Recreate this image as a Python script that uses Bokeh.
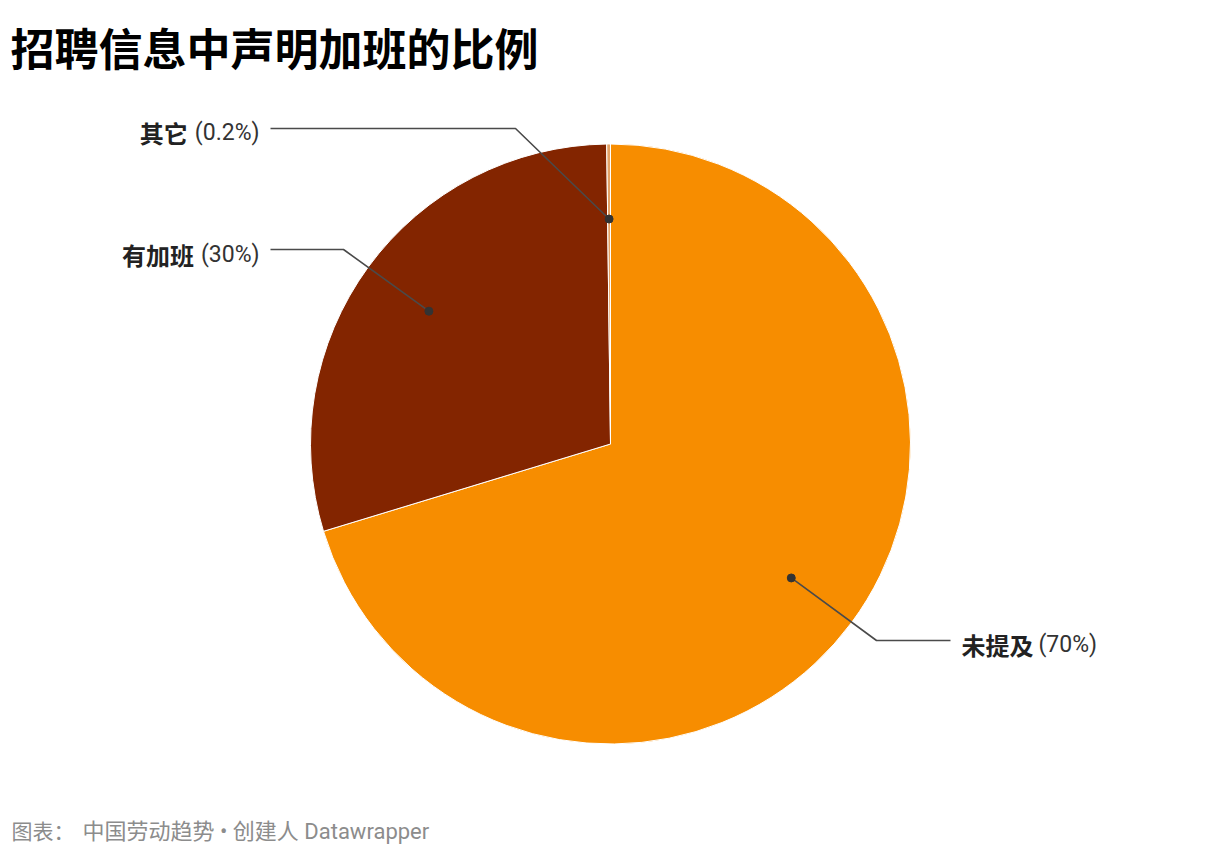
import math
from bokeh.plotting import figure
from bokeh.models import Range1d, ColumnDataSource
from bokeh.core.properties import value
from bokeh.embed import file_html
from bokeh.resources import INLINE

# ---- data ----
categories = ["未提及", "有加班", "其它"]
shares = [70.3, 29.5, 0.2]
pct_labels = ["(70%)", "(30%)", "(0.2%)"]
colors = ["#f78d00", "#832500", "#e3a266"]

title_text = "招聘信息中声明加班的比例"
footer_prefix = "图表："
footer_text = "中国劳动趋势 • 创建人 Datawrapper"

# ---- layout (reference pixel coordinates; y measured from top) ----
W, H = 1204, 848
cx, cy_top, R = 610, 443.5, 300
label_side = ["right", "left", "left"]
label_y = [644, 254, 132]          # text centre line
line_y = [640, 249, 128]           # horizontal leader y
elbow_x = [876, 343, 515]
line_end_x = [950, 270, 270]
text_x = [961, 259, 259]


def Y(y):
    return H - y


p = figure(width=W, height=H, output_backend="svg", toolbar_location=None,
           x_range=Range1d(0, W), y_range=Range1d(0, H),
           min_border=0, outline_line_color=None)
p.axis.visible = False
p.grid.visible = False
p.background_fill_color = "white"
p.border_fill_color = "white"

# ---- wedges (clockwise from 12 o'clock) ----
total = sum(shares)
starts, ends, mids = [], [], []
acc = 0.0
for s in shares:
    a0 = acc / total * 360
    acc += s
    a1 = acc / total * 360
    starts.append(math.radians(90 - a1))
    ends.append(math.radians(90 - a0))
    mids.append((a0 + a1) / 2)

src = ColumnDataSource(dict(x=[cx] * 3, y=[Y(cy_top)] * 3, start=starts, end=ends,
                            color=colors, cat=categories))
p.wedge(x="x", y="y", radius=R, start_angle="start", end_angle="end",
        fill_color="color", line_color="white", line_width=1, source=src)

# ---- leader lines and dots ----
dot_x, dot_y = [], []
for i, m in enumerate(mids):
    dx = cx + 0.75 * R * math.sin(math.radians(m))
    dy = cy_top - 0.75 * R * math.cos(math.radians(m))
    dot_x.append(dx)
    dot_y.append(Y(dy))
    p.line([dx, elbow_x[i], line_end_x[i]], [Y(dy), Y(line_y[i]), Y(line_y[i])],
           line_color="#4a4a4a", line_width=1.6)
p.scatter(dot_x, dot_y, size=8, color="#333333")

# ---- labels ----
FS = 23
FS_CJK = 24
roboto_w = {"(": 0.342, ")": 0.348, "%": 0.733, ".": 0.263, " ": 0.248}


def text_width(t):
    return sum(roboto_w.get(c, 0.562) for c in t) * FS


for i in range(3):
    if label_side[i] == "left":
        px = text_x[i]
        nx = text_x[i] - text_width(pct_labels[i]) - 7
        align = "right"
    else:
        nx = text_x[i]
        px = text_x[i] + len(categories[i]) * FS_CJK + 5
        align = "left"
    p.text([nx], [Y(label_y[i])], text=[categories[i]], text_align=align,
           text_baseline="middle", text_font=value("Noto Sans CJK SC"),
           text_font_style="bold", text_font_size=f"{FS_CJK}px", text_color="#222222")
    p.text([px], [Y(label_y[i])], text=[pct_labels[i]], text_align=align,
           text_baseline="middle", text_font=value("Roboto"),
           text_font_size=f"{FS}px", text_color="#333333")

# ---- title and footer ----
p.text([10], [Y(46)], text=[title_text], text_align="left", text_baseline="middle",
       text_font=value("Noto Sans CJK SC"), text_font_style="bold",
       text_font_size="44px", text_color="#000000")
p.text([11], [Y(831)], text=[footer_prefix], text_align="left", text_baseline="middle",
       text_font=value("Roboto, Noto Sans CJK SC"), text_font_size="21px",
       text_color="#8c8c8c")
p.text([82], [Y(831)], text=[footer_text], text_align="left", text_baseline="middle",
       text_font=value("Roboto, Noto Sans CJK SC"), text_font_size="22px",
       text_color="#8c8c8c")

open("out.html", "w").write(file_html(p, INLINE))
